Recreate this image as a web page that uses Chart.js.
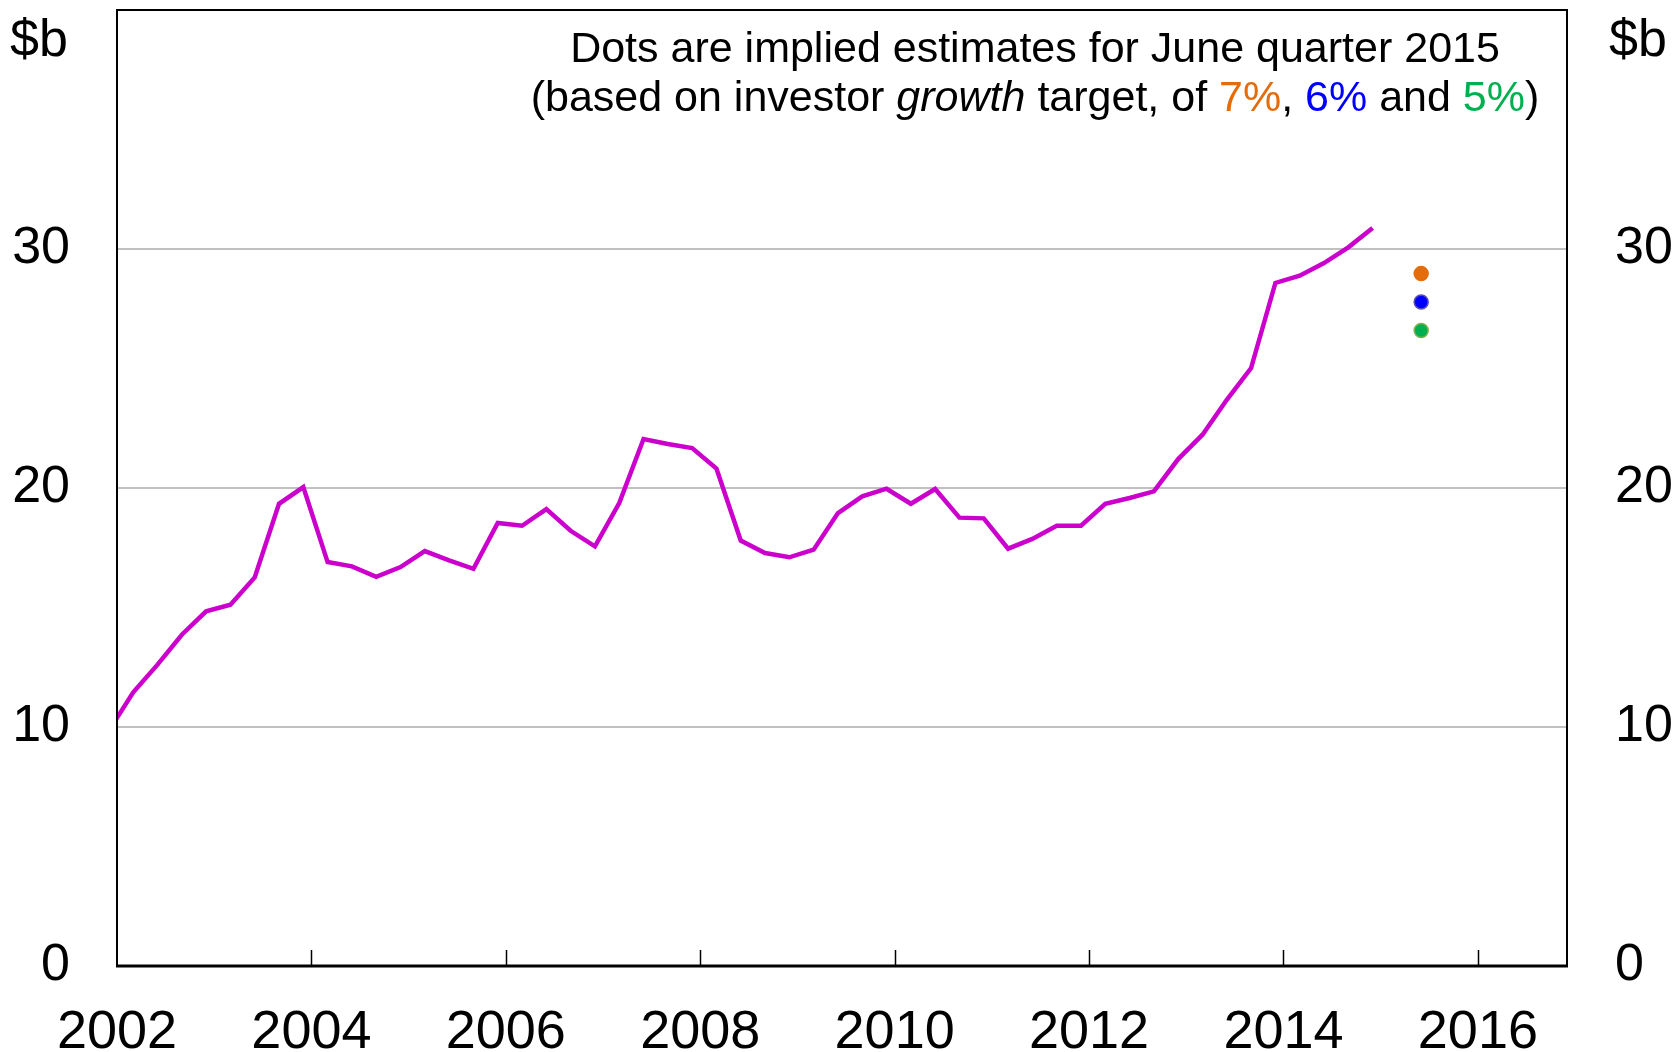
<!DOCTYPE html>
<html>
<head>
<meta charset="utf-8">
<script src="https://cdn.jsdelivr.net/npm/chart.js@4"></script>
<style>
  html, body { margin:0; padding:0; background:#fff; }
  canvas { display:block; }
</style>
</head>
<body>
<canvas id="chart" width="1677" height="1052"></canvas>
<script>
// investor housing credit, quarterly, $b
const firstQuarter = [2001, 12];   // year, month of first observation
const values = [
  9.85,
  11.45, 12.61, 13.86, 14.84,
  15.12, 16.26, 19.34, 20.04,
  16.90, 16.72, 16.28, 16.69,
  17.36, 16.97, 16.62, 18.54,
  18.42, 19.12, 18.21, 17.56,
  19.37, 22.05, 21.84, 21.67,
  20.81, 17.80, 17.28, 17.10,
  17.42, 18.95, 19.65, 19.97,
  19.34, 19.96, 18.76, 18.73,
  17.46, 17.87, 18.42, 18.42,
  19.34, 19.58, 19.86, 21.21,
  22.23, 23.69, 25.02, 28.58,
  28.88, 29.41, 30.07, 30.88
];

// implied June quarter 2015 estimates (7%, 6%, 5% growth)
const dotDate = [2015, 6];
const dotValues = [28.97, 27.78, 26.59];
const dotColors = ['#E46C0A', '#0000FF', '#00B050'];
const dotBorders = ['#E46C0A', '#5B4FB0', '#7FB24A'];

const yTicks = [0, 10, 20, 30];
const xRange = [2002, 2016 + 11/12];

const FONT = '"Liberation Sans", Arial, sans-serif';

// month -> position on a year axis (Jan = .0)
function toYear(y, m){ return y + (m - 1) / 12; }

const linePoints = values.map((v, i) => {
  const m0 = firstQuarter[1] - 1 + i * 3;
  return { x: toYear(firstQuarter[0] + Math.floor(m0 / 12), (m0 % 12) + 1), y: v };
});
const dotPoints = dotValues.map(v => ({ x: toYear(dotDate[0], dotDate[1]), y: v }));

// frame, inward year ticks, unit labels and note
const decor = {
  id: 'decor',
  afterDatasetsDraw(chart){
    const { ctx, chartArea: a, scales } = chart;
    ctx.save();
    ctx.strokeStyle = '#000';
    ctx.lineWidth = 2;
    ctx.strokeRect(a.left, a.top, a.right - a.left, a.bottom - a.top);
    ctx.lineWidth = 3;
    ctx.beginPath(); ctx.moveTo(a.left - 1, a.bottom); ctx.lineTo(a.right + 1, a.bottom); ctx.stroke();
    ctx.lineWidth = 1.5;
    scales.x.ticks.forEach(t => {
      if (t.value <= xRange[0]) return;
      const px = Math.round(scales.x.getPixelForValue(t.value)) + 0.5;
      ctx.beginPath(); ctx.moveTo(px, a.bottom); ctx.lineTo(px, a.bottom - 16); ctx.stroke();
    });

    ctx.fillStyle = '#000';
    ctx.font = '52px ' + FONT;
    ctx.textBaseline = 'alphabetic';
    ctx.textAlign = 'left';
    ctx.fillText('$b', 10, 56);
    ctx.fillText('$b', 1609, 56);

    // note, two centred lines with coloured parts
    const cx = 1035;
    const normal = '43px ' + FONT, italic = 'italic 43px ' + FONT;
    ctx.font = normal;
    ctx.textAlign = 'center';
    ctx.fillText('Dots are implied estimates for June quarter 2015', cx, 62);

    const parts = [
      ['(based on investor ', '#000', normal],
      ['growth', '#000', italic],
      [' target, of ', '#000', normal],
      ['7%', dotColors[0], normal],
      [', ', '#000', normal],
      ['6%', dotColors[1], normal],
      [' and ', '#000', normal],
      ['5%', dotColors[2], normal],
      [')', '#000', normal]
    ];
    let total = 0;
    parts.forEach(p => { ctx.font = p[2]; total += ctx.measureText(p[0]).width; });
    let x = cx - total / 2;
    ctx.textAlign = 'left';
    parts.forEach(p => {
      ctx.font = p[2]; ctx.fillStyle = p[1];
      ctx.fillText(p[0], x, 111);
      x += ctx.measureText(p[0]).width;
    });
    ctx.restore();
  }
};

const yTickOpts = {
  stepSize: 10,
  color: '#000',
  font: { family: FONT, size: 52 },
  callback: v => yTicks.includes(v) ? String(v) : ''
};

function noPad(s){ s.paddingTop = 0; s.paddingBottom = 0; }

new Chart(document.getElementById('chart'), {
  type: 'line',
  data: {
    datasets: [
      {
        data: linePoints,
        borderColor: '#CC00CC',
        borderWidth: 4.5,
        pointRadius: 0,
        tension: 0,
        fill: false
      },
      {
        type: 'scatter',
        data: dotPoints,
        pointRadius: 7,
        pointBackgroundColor: dotColors,
        pointBorderColor: dotBorders,
        pointBorderWidth: 1.5
      }
    ]
  },
  options: {
    responsive: false,
    devicePixelRatio: 1,
    animation: false,
    layout: { padding: { top: 10, left: 0, right: 0, bottom: 0 } },
    plugins: { legend: { display: false }, tooltip: { enabled: false } },
    scales: {
      x: {
        type: 'linear',
        min: xRange[0],
        max: xRange[1],
        grid: { display: false },
        border: { display: false },
        ticks: {
          stepSize: 2,
          includeBounds: false,
          maxRotation: 0,
          autoSkip: false,
          color: '#000',
          padding: 27,
          font: { family: FONT, size: 54 },
          callback: v => String(v)
        },
        afterFit(s){ s.height = 86; s.paddingLeft = 0; s.paddingRight = 0; }
      },
      y: {
        position: 'left',
        min: 0, max: 40,
        border: { display: false },
        grid: {
          drawTicks: false,
          lineWidth: 2,
          color: c => (c.tick && c.tick.value > 0 && c.tick.value < 40) ? '#C0C0C0' : 'rgba(0,0,0,0)'
        },
        ticks: Object.assign({ padding: 47 }, yTickOpts),
        afterFit(s){ s.width = 117; noPad(s); }
      },
      y2: {
        position: 'right',
        min: 0, max: 40,
        border: { display: false },
        grid: { display: false, drawTicks: false },
        ticks: Object.assign({ padding: 48 }, yTickOpts),
        afterFit(s){ s.width = 110; noPad(s); }
      }
    }
  },
  plugins: [decor]
});
</script>
</body>
</html>
